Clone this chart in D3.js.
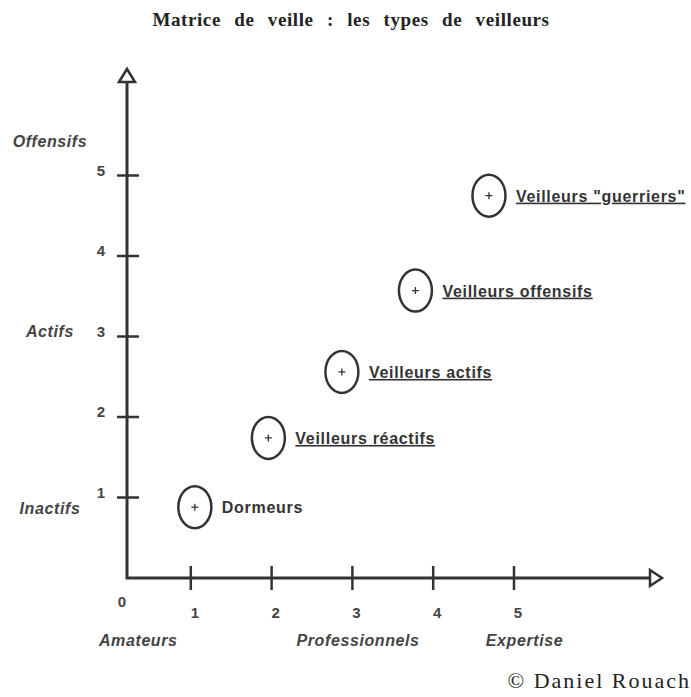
<!DOCTYPE html>
<html>
<head>
<meta charset="utf-8" />
<title>Matrice de veille</title>
<style>
html, body {
    margin: 0;
    padding: 0;
    background: #fff;
}
text {
    fill: #333;
}
.tick-label {
    font-family: "Liberation Sans", Arial, sans-serif;
    font-weight: bold;
    font-size: 15px;
    fill: #444;
}
.cat-label {
    font-family: "Liberation Sans", Arial, sans-serif;
    font-weight: bold;
    font-style: italic;
    font-size: 16px;
    letter-spacing: 0.6px;
    fill: #444;
}
.pt-label {
    font-family: "Liberation Sans", Arial, sans-serif;
    font-weight: bold;
    font-size: 16px;
    letter-spacing: 0.7px;
    fill: #333;
}
</style>
</head>
<body>
<div id="chart"></div>
<script src="https://cdn.jsdelivr.net/npm/d3@7"></script>
<script>
// types de veilleurs : expertise (x) / attitude (y)
var types = ["Dormeurs", "Veilleurs réactifs", "Veilleurs actifs", "Veilleurs offensifs", "Veilleurs \"guerriers\""]
var expertise = [1.05, 1.96, 2.87, 3.78, 4.69]
var attitude = [0.88, 1.74, 2.56, 3.57, 4.75]
var underlined = [false, true, true, true, true]

var tickValues = [1, 2, 3, 4, 5]
var xCats = ["Amateurs", "Professionnels", "Expertise"]
var xCatPos = [0.35, 3.07, 5.13]
var yCats = ["Offensifs", "Actifs", "Inactifs"]
var yCatPos = [5.43, 3.07, 0.87]

var W = 691, H = 697
var ink = "#333"

var svg = d3.select("#chart").append("svg")
    .attr("width", W)
    .attr("height", H)

var x = d3.scaleLinear().domain([0, 5]).range([110, 514])
var y = d3.scaleLinear().domain([0, 5]).range([578, 175.5])

var originX = 127, originY = y(0)

// titre
svg.append("text")
    .attr("x", 351).attr("y", 26)
    .attr("text-anchor", "middle")
    .style("font-family", "'Liberation Serif', 'Times New Roman', serif")
    .style("font-weight", "bold")
    .style("font-size", "19px")
    .style("letter-spacing", "0.6px")
    .style("word-spacing", "8px")
    .style("fill", "#222")
    .text("Matrice de veille : les types de veilleurs")

// axes
var axes = svg.append("g")
    .attr("stroke", ink)
    .attr("stroke-width", 3)
    .attr("fill", "none")

axes.append("path")
    .attr("d", "M" + originX + "," + 82 + "V" + originY + "H" + 650)
    .attr("stroke-linejoin", "miter")

// fleches
axes.append("path")
    .attr("d", "M" + (originX - 8) + ",82L" + originX + ",69L" + (originX + 8) + ",82Z")
    .attr("stroke-width", 2.5)
axes.append("path")
    .attr("d", "M650," + (originY - 8) + "L662," + originY + "L650," + (originY + 8) + "Z")
    .attr("stroke-width", 2.5)

// graduations
axes.selectAll(".ytick")
    .data(tickValues)
    .enter().append("line")
    .attr("x1", originX - 10).attr("x2", originX + 12)
    .attr("y1", function(d) { return y(d) }).attr("y2", function(d) { return y(d) })
    .attr("stroke-width", 2.5)

axes.selectAll(".xtick")
    .data(tickValues)
    .enter().append("line")
    .attr("x1", function(d) { return x(d) }).attr("x2", function(d) { return x(d) })
    .attr("y1", originY - 12).attr("y2", originY + 12)
    .attr("stroke-width", 2.5)

svg.selectAll(".ylab")
    .data(tickValues)
    .enter().append("text")
    .attr("class", "tick-label")
    .attr("x", 101)
    .attr("y", function(d) { return y(d) })
    .attr("text-anchor", "middle")
    .text(function(d) { return d })

svg.selectAll(".xlab")
    .data(tickValues)
    .enter().append("text")
    .attr("class", "tick-label")
    .attr("x", function(d) { return x(d) + 4 })
    .attr("y", 618)
    .attr("text-anchor", "middle")
    .text(function(d) { return d })

svg.append("text")
    .attr("class", "tick-label")
    .attr("x", 122).attr("y", 607)
    .attr("text-anchor", "middle")
    .text("0")

// libelles des axes
svg.selectAll(".xcat")
    .data(xCats)
    .enter().append("text")
    .attr("class", "cat-label")
    .attr("x", function(d, i) { return x(xCatPos[i]) })
    .attr("y", 646)
    .attr("text-anchor", "middle")
    .text(function(d) { return d })

svg.selectAll(".ycat")
    .data(yCats)
    .enter().append("text")
    .attr("class", "cat-label")
    .attr("x", 50)
    .attr("y", function(d, i) { return y(yCatPos[i]) + 6 })
    .attr("text-anchor", "middle")
    .text(function(d) { return d })

// points
var pts = svg.selectAll(".pt")
    .data(types)
    .enter().append("g")
    .attr("transform", function(d, i) { return "translate(" + x(expertise[i]) + "," + y(attitude[i]) + ")" })

pts.append("ellipse")
    .attr("rx", 16.5).attr("ry", 21)
    .attr("fill", "none")
    .attr("stroke", ink)
    .attr("stroke-width", 2.5)

pts.append("path")
    .attr("d", "M-3.5,0H3.5M0,-3.5V3.5")
    .attr("stroke", ink)
    .attr("stroke-width", 1.3)

pts.append("text")
    .attr("class", "pt-label")
    .attr("x", 27)
    .attr("y", 6)
    .style("text-decoration", function(d, i) { return underlined[i] ? "underline" : "none" })
    .text(function(d) { return d })

// copyright
svg.append("text")
    .attr("x", 691).attr("y", 688)
    .attr("text-anchor", "end")
    .style("font-family", "'Liberation Serif', 'Times New Roman', serif")
    .style("font-size", "22px")
    .style("letter-spacing", "2px")
    .style("fill", "#222")
    .text("© Daniel Rouach")
</script>
</body>
</html>
